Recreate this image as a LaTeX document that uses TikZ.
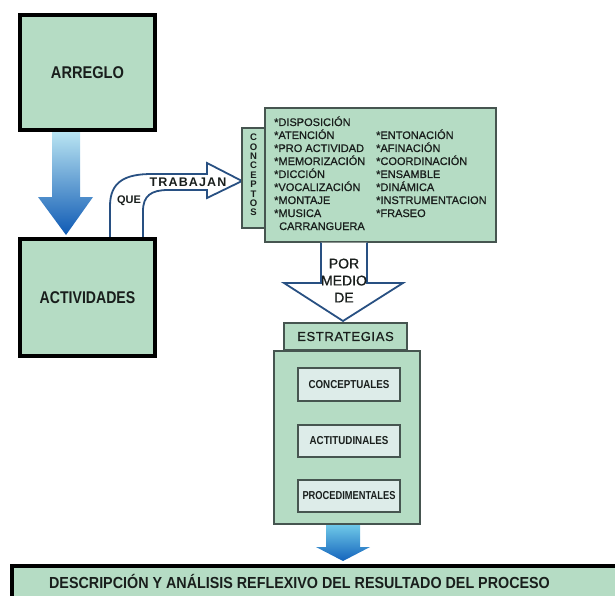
\documentclass[tikz,border=0pt]{standalone}
\usepackage{fontspec}
\setmainfont{Liberation Sans}
\usepackage{graphicx}
\definecolor{mint}{RGB}{181,220,196}
\definecolor{lightbox}{RGB}{221,236,233}
\definecolor{grayline}{RGB}{70,85,80}
\definecolor{arrowblue}{RGB}{40,80,130}
\definecolor{txt}{RGB}{25,30,28}
\newcommand{\cnd}[2][0.9]{\scalebox{#1}[1]{#2}}
\begin{document}
\begin{tikzpicture}[x=1pt,y=-1pt,
  blackbox/.style={draw=black, line width=3.5pt, fill=mint, inner sep=0pt, text=txt},
  graybox/.style={draw=grayline, line width=1.3pt, fill=mint, inner sep=0pt, text=txt},
  lightbx/.style={draw=grayline, line width=1.5pt, fill=lightbox, inner sep=0pt, text=txt,
     font=\fontsize{11.5}{13}\selectfont\bfseries},
  hollow/.style={draw=arrowblue, line width=1.8pt, fill=white, line join=miter},
  listtxt/.style={font=\fontsize{11}{12}\selectfont\addfontfeature{FakeBold=0.6}, text=txt, inner sep=0pt, anchor=base west},
  plain/.style={inner sep=0pt, text=txt}]
\useasboundingbox (0,0) rectangle (615,596);
\clip (0,0) rectangle (615,596);

% blue arrow ARREGLO -> ACTIVIDADES
\shade[top color={rgb,255:red,185;green,228;blue,242}, middle color={rgb,255:red,60;green,160;blue,215},
       bottom color={rgb,255:red,15;green,90;blue,180}]
  (52,132) -- (80,132) -- (80,197) -- (93,197) -- (66,235) -- (38,197) -- (52,197) -- cycle;

% curved hollow arrow QUE TRABAJAN
\filldraw[hollow] (110,238) -- (110,206) .. controls (110,181) and (126,174) .. (152,174)
  -- (207,174) -- (207,163) -- (242,181) -- (207,198) -- (207,190) -- (168,190)
  .. controls (151,190) and (143,196) .. (143,211) -- (143,238);

% main boxes
\node[blackbox, minimum width=135, minimum height=115, font=\fontsize{17}{18}\selectfont\bfseries]
  (arreglo) at (87.5,72.5) {\cnd[0.86]{ARREGLO}};
\node[blackbox, minimum width=135, minimum height=117, font=\fontsize{17}{18}\selectfont\bfseries]
  (actividades) at (87.5,297.5) {\cnd[0.83]{ACTIVIDADES}};

\node[plain, font=\fontsize{12.5}{13}\selectfont\bfseries\addfontfeature{LetterSpace=9}] (trabajan) at (188,182) {TRABAJAN};
\node[plain, font=\fontsize{11}{12}\selectfont\bfseries] (que) at (129,201) {QUE};

% conceptos
\node[graybox, minimum width=23, minimum height=100] (tab) at (253.5,178) {};
\node[plain, align=center, font=\fontsize{9.5}{9.4}\selectfont\bfseries] (tabtxt) at (253.5,175) {C\\O\\N\\C\\E\\P\\T\\O\\S};
\node[graybox, minimum width=231, minimum height=134] (conceptos) at (380.5,175) {};

\foreach \t [count=\i] in {*DISPOSICIÓN,*ATENCIÓN,*PRO ACTIVIDAD,*MEMORIZACIÓN,*DICCIÓN,*VOCALIZACIÓN,*MONTAJE,*MUSICA}
  \node[listtxt] (cl\i) at (274,126+13*\i-13) {\t};
\node[listtxt] (cl9) at (279,230) {CARRANGUERA};
\foreach \t [count=\i] in {*ENTONACIÓN,*AFINACIÓN,*COORDINACIÓN,*ENSAMBLE,*DINÁMICA,*INSTRUMENTACION,*FRASEO}
  \node[listtxt] (cr\i) at (376,139+13*\i-13) {\t};

% hollow arrow POR MEDIO DE
\filldraw[hollow] (321,242.5) -- (321,283) -- (284,283) -- (343,321) -- (403,283) -- (367,283) -- (367,242.5);
\node[plain, align=center, font=\fontsize{14}{17}\selectfont\addfontfeature{FakeBold=0.8}] (pormedio) at (344,280.5) {POR\\MEDIO\\DE};

% estrategias
\node[graybox, minimum width=123, minimum height=27, font=\fontsize{13}{15}\selectfont\addfontfeature{LetterSpace=5,FakeBold=0.8}]
  (esttab) at (345.5,336.5) {ESTRATEGIAS};
\node[graybox, minimum width=146, minimum height=173] (estrategias) at (347,437.5) {};
\node[lightbx, minimum width=102, minimum height=33] (conc) at (349,384.5) {\cnd[0.85]{CONCEPTUALES}};
\node[lightbx, minimum width=102, minimum height=32] (acti) at (349,441) {\cnd[0.85]{ACTITUDINALES}};
\node[lightbx, minimum width=102, minimum height=32] (proc) at (349,496) {\cnd[0.81]{PROCEDIMENTALES}};

% small blue arrow
\shade[top color={rgb,255:red,110;green,200;blue,232}, bottom color={rgb,255:red,20;green,100;blue,188}]
  (326,525) -- (360,525) -- (360,547) -- (370,547) -- (343,561) -- (316,547) -- (326,547) -- cycle;

% bottom box
\node[blackbox, minimum width=640, minimum height=60, anchor=north west] (descr) at (10,564) {};
\node[plain, font=\fontsize{16}{17}\selectfont\bfseries] (descrtxt) at (299.5,581)
  {\cnd[0.895]{DESCRIPCIÓN Y ANÁLISIS REFLEXIVO DEL RESULTADO DEL PROCESO}};
\end{tikzpicture}
\end{document}
